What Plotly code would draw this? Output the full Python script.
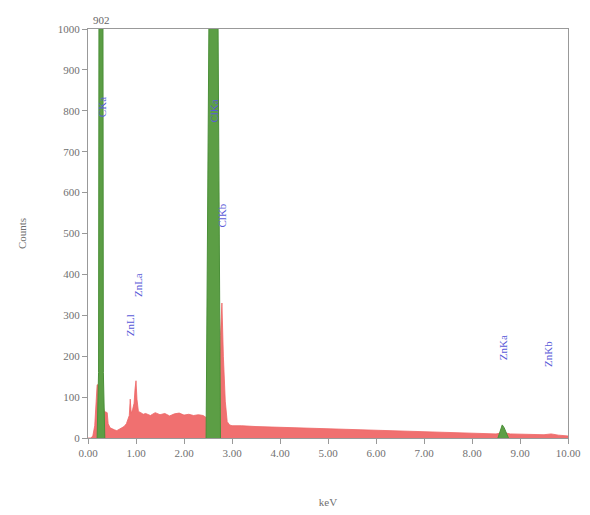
import plotly.graph_objects as go

# Total spectrum (red), keV vs counts
spec_kev = [0.00, 0.06, 0.10, 0.14, 0.17, 0.19, 0.21, 0.33, 0.34, 0.40, 0.42, 0.46, 0.50, 0.55, 0.60,
            0.65, 0.70, 0.75, 0.80, 0.83, 0.86, 0.88, 0.90, 0.93, 0.96, 0.98, 1.00, 1.02, 1.05,
            1.10, 1.15, 1.20, 1.30, 1.40, 1.50, 1.60, 1.70, 1.80, 1.90, 2.00, 2.10, 2.20,
            2.30, 2.40, 2.46, 2.60, 2.72, 2.76, 2.79, 2.82, 2.86, 2.90, 2.95, 3.00, 3.20,
            3.50, 3.80, 4.00, 4.30, 4.60, 5.00, 5.40, 5.80, 6.00, 6.40, 6.80, 7.00, 7.40,
            7.80, 8.00, 8.30, 8.50, 8.60, 8.70, 8.80, 9.00, 9.30, 9.50, 9.65, 9.80, 10.00]
spec_counts = [0, 0, 5, 30, 90, 130, 130, 65, 65, 62, 35, 25, 22, 20, 18,
               22, 25, 28, 35, 45, 55, 95, 60, 70, 85, 120, 140, 95, 65,
               62, 58, 60, 55, 62, 57, 60, 54, 59, 61, 56, 58, 55,
               57, 55, 50, 60, 120, 250, 330, 200, 90, 40, 32, 30, 30,
               28, 27, 26, 24, 23, 22, 21, 20, 19, 18, 16, 15, 14,
               13, 12, 11, 10, 12, 12, 10, 9, 8, 8, 10, 7, 5]

# Element peak fits (green)
c_kev = [0.19, 0.22, 0.23, 0.31, 0.32, 0.35]
c_counts = [0, 160, 1200, 1200, 160, 0]
cl_kev = [2.46, 2.48, 2.53, 2.70, 2.74, 2.76]
cl_counts = [0, 300, 1200, 1200, 300, 0]
zn_kev = [8.54, 8.58, 8.63, 8.67, 8.72, 8.76]
zn_counts = [0, 15, 32, 25, 8, 0]

# Line labels
label_text = ["CKa", "ClKa", "ClKb", "ZnLl", "ZnLa", "ZnKa", "ZnKb"]
label_kev = [0.28, 2.62, 2.80, 0.87, 1.03, 8.65, 9.58]
label_counts = [810, 800, 545, 275, 375, 220, 205]

x_ticks = [i for i in range(11)]
x_ticklabels = ["%.2f" % v for v in x_ticks]
y_ticks = list(range(0, 1001, 100))

fig = go.Figure()
fig.add_trace(go.Scatter(x=spec_kev, y=spec_counts, mode="lines", fill="tozeroy",
                         line=dict(color="#ee6464", width=0.8), fillcolor="#f07070",
                         hoverinfo="skip"))
for xs, ys in [(c_kev, c_counts), (cl_kev, cl_counts), (zn_kev, zn_counts)]:
    fig.add_trace(go.Scatter(x=xs, y=ys, mode="lines", fill="tozeroy",
                             line=dict(color="#4a8f38", width=1), fillcolor="#5c9e45",
                             hoverinfo="skip"))

for t, xv, yv in zip(label_text, label_kev, label_counts):
    fig.add_annotation(x=xv, y=yv, text=t, showarrow=False, textangle=-90,
                       font=dict(family="Liberation Serif", size=11, color="#5a5ad8"))

fig.add_annotation(x=0.29, y=1.0, yref="paper", yanchor="bottom", yshift=1, text="902",
                   showarrow=False, font=dict(family="Liberation Serif", size=11, color="#666"))

axis_font = dict(family="Liberation Serif", size=11, color="#707070")
fig.update_layout(
    width=590, height=515,
    margin=dict(l=80, r=30, t=21, b=85, autoexpand=False),
    paper_bgcolor="white", plot_bgcolor="white",
    showlegend=False,
    xaxis=dict(range=[0, 10], tickvals=x_ticks, ticktext=x_ticklabels, ticks="outside",
               ticklen=5, tickcolor="#999", showgrid=False, zeroline=False,
               showline=True, linecolor="#999", linewidth=1, mirror=True,
               tickfont=axis_font, automargin=False,
               title=dict(text="keV", font=axis_font, standoff=40)),
    yaxis=dict(range=[0, 1000], tickvals=y_ticks, ticks="outside", ticklen=5, tickcolor="#999",
               showgrid=False, zeroline=False, showline=True, linecolor="#999", linewidth=1,
               mirror=True, tickfont=axis_font, automargin=False,
               title=dict(text="Counts", font=axis_font, standoff=28)),
)

fig.write_html("out.html")
